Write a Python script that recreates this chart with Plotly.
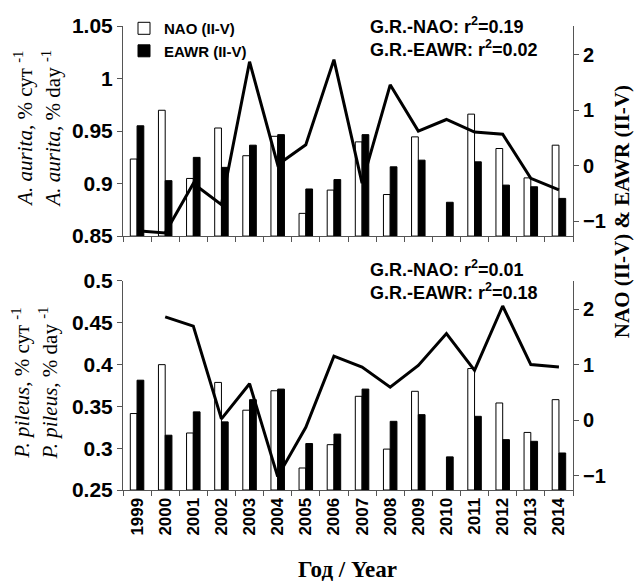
import numpy as np
import plotly.graph_objects as go

years = [str(y) for y in range(1999, 2015)]
nao = [0.12, 1.00, -0.23, 0.68, 0.18, 0.53, -0.86, -0.44, 0.43, -0.52, 0.52, -1.50, 0.93, 0.31, -0.22, 0.37]
eawr = [0.72, -0.27, 0.15, -0.03, 0.37, 0.56, -0.42, -0.25, 0.56, -0.02, 0.10, -0.66, 0.07, -0.35, -0.38, -0.59]
aurita = [0.855, 0.853, 0.900, 0.880, 1.016, 0.918, 0.937, 1.018, 0.9005, 0.994, 0.950, 0.961, 0.949, 0.947, 0.905, 0.894]
pileus = [None, 0.457, 0.446, 0.335, 0.377, 0.266, 0.325, 0.410, 0.397, 0.373, 0.399, 0.437, 0.393, 0.470, 0.400, 0.397]

idx_range_top = [-1.27, 2.52]
idx_range_bot = [-1.256, 2.507]

W, H = 635, 581
L, R, T, B = 123, 62, 24, 91
PW, PH = W - L - R, H - T - B


def px(x):
    return (x - L) / PW


def py(y):
    return (H - B - y) / PH


top_dom = [py(235), 1.0]
bot_dom = [0.0, py(280)]

SANS = "Liberation Sans"
SERIF = "Liberation Serif"
AX = "#555555"

fig = go.Figure()


def bars(vals, base, name, fill, xa, ya, show):
    h = np.array(vals) - base
    h = np.where(h > 0, h, np.nan)
    return go.Bar(x=years, y=h, base=base, name=name, xaxis=xa, yaxis=ya,
                  marker=dict(color=fill, line=dict(color="black", width=1)),
                  showlegend=show)


fig.add_trace(bars(nao, idx_range_top[0], "NAO (II-V)", "white", "x", "y", True))
fig.add_trace(bars(eawr, idx_range_top[0], "EAWR (II-V)", "black", "x", "y", True))
fig.add_trace(go.Scatter(x=years, y=aurita, mode="lines", xaxis="x", yaxis="y2",
                         line=dict(color="black", width=3), showlegend=False))

fig.add_trace(bars(nao, idx_range_bot[0], "NAO (II-V)", "white", "x2", "y3", False))
fig.add_trace(bars(eawr, idx_range_bot[0], "EAWR (II-V)", "black", "x2", "y3", False))
fig.add_trace(go.Scatter(x=years, y=pileus, mode="lines", xaxis="x2", yaxis="y4",
                         line=dict(color="black", width=3), showlegend=False,
                         connectgaps=False))

tickfont = dict(family=SANS, size=21, color="black", weight="bold")
rtickfont = dict(family=SANS, size=20, color="black", weight="bold")
common_x = dict(type="category", range=[-0.5, 15.5], showline=True, linecolor=AX,
                linewidth=1, ticks="outside", ticklen=5, tickcolor=AX,
                tickson="boundaries", showgrid=False, zeroline=False)

fig.update_layout(
    width=W, height=H,
    margin=dict(l=L, r=R, t=T, b=B),
    paper_bgcolor="white", plot_bgcolor="white",
    barmode="group", bargap=0.52, bargroupgap=0,
    xaxis=dict(**common_x, anchor="y", showticklabels=False),
    yaxis=dict(domain=top_dom, anchor="x", side="right", range=idx_range_top,
               tickvals=[-1, 0, 1, 2], showline=True, linecolor=AX, ticks="outside",
               ticklen=5, tickcolor=AX, showgrid=False, zeroline=False,
               tickfont=rtickfont),
    yaxis2=dict(overlaying="y", anchor="x", side="left", range=[0.85, 1.05],
                tickvals=[0.85, 0.9, 0.95, 1.0, 1.05], ticktext=["0.85", "0.9", "0.95", "1", "1.05"],
                showline=True, linecolor=AX, ticks="outside", ticklen=5, tickcolor=AX,
                showgrid=False, zeroline=False, tickfont=tickfont),
    xaxis2=dict(**common_x, anchor="y3", tickangle=-90,
                tickfont=dict(family=SANS, size=17, color="black", weight="bold")),
    yaxis3=dict(domain=bot_dom, anchor="x2", side="right", range=idx_range_bot,
                tickvals=[-1, 0, 1, 2], showline=True, linecolor=AX, ticks="outside",
                ticklen=5, tickcolor=AX, showgrid=False, zeroline=False,
                tickfont=rtickfont),
    yaxis4=dict(overlaying="y3", anchor="x2", side="left", range=[0.25, 0.5],
                tickvals=[0.25, 0.3, 0.35, 0.4, 0.45, 0.5], ticktext=["0.25", "0.3", "0.35", "0.4", "0.45", "0.5"],
                showline=True, linecolor=AX, ticks="outside", ticklen=5, tickcolor=AX,
                showgrid=False, zeroline=False, tickfont=tickfont),
    legend=dict(x=px(124), y=py(10), xanchor="left", yanchor="top",
                bgcolor="rgba(0,0,0,0)", tracegroupgap=0,
                font=dict(family=SANS, size=15, color="black", weight="bold")),
)

ann = []
rfont = dict(family=SANS, size=18, color="black", weight="bold")
for (txt, y) in [("G.R.-NAO: r<sup>2</sup>=0.19<br>G.R.-EAWR: r<sup>2</sup>=0.02", 35),
                 ("G.R.-NAO: r<sup>2</sup>=0.01<br>G.R.-EAWR: r<sup>2</sup>=0.18", 279)]:
    ann.append(dict(text=txt, x=px(368), y=py(y), xref="paper", yref="paper", align="left",
                    xanchor="left", yanchor="middle", showarrow=False, font=rfont))

tfont = dict(family=SERIF, size=21, color="black")
ann.append(dict(text="<i>A. aurita</i>, % сут <sup>-1</sup><br><i>A. aurita</i>, % day <sup>-1</sup>",
                x=px(37), y=py(127), xref="paper", yref="paper", textangle=-90,
                xanchor="center", yanchor="middle", showarrow=False, font=tfont))
ann.append(dict(text="<i>P. pileus</i>, % сут <sup>-1</sup><br><i>P. pileus</i>, % day <sup>-1</sup>",
                x=px(35), y=py(383), xref="paper", yref="paper", textangle=-90,
                xanchor="center", yanchor="middle", showarrow=False, font=tfont))
ann.append(dict(text="<b>NAO (II-V) & EAWR (II-V)</b>", x=px(622), y=py(211), xref="paper", yref="paper",
                textangle=-90, xanchor="center", yanchor="middle", showarrow=False,
                font=dict(family=SERIF, size=21, color="black")))
ann.append(dict(text="<b>Год / Year</b>", x=px(347), y=py(570), xref="paper", yref="paper",
                xanchor="center", yanchor="middle", showarrow=False,
                font=dict(family=SERIF, size=23, color="black")))
fig.update_layout(annotations=ann)

fig.write_html("out.html")
